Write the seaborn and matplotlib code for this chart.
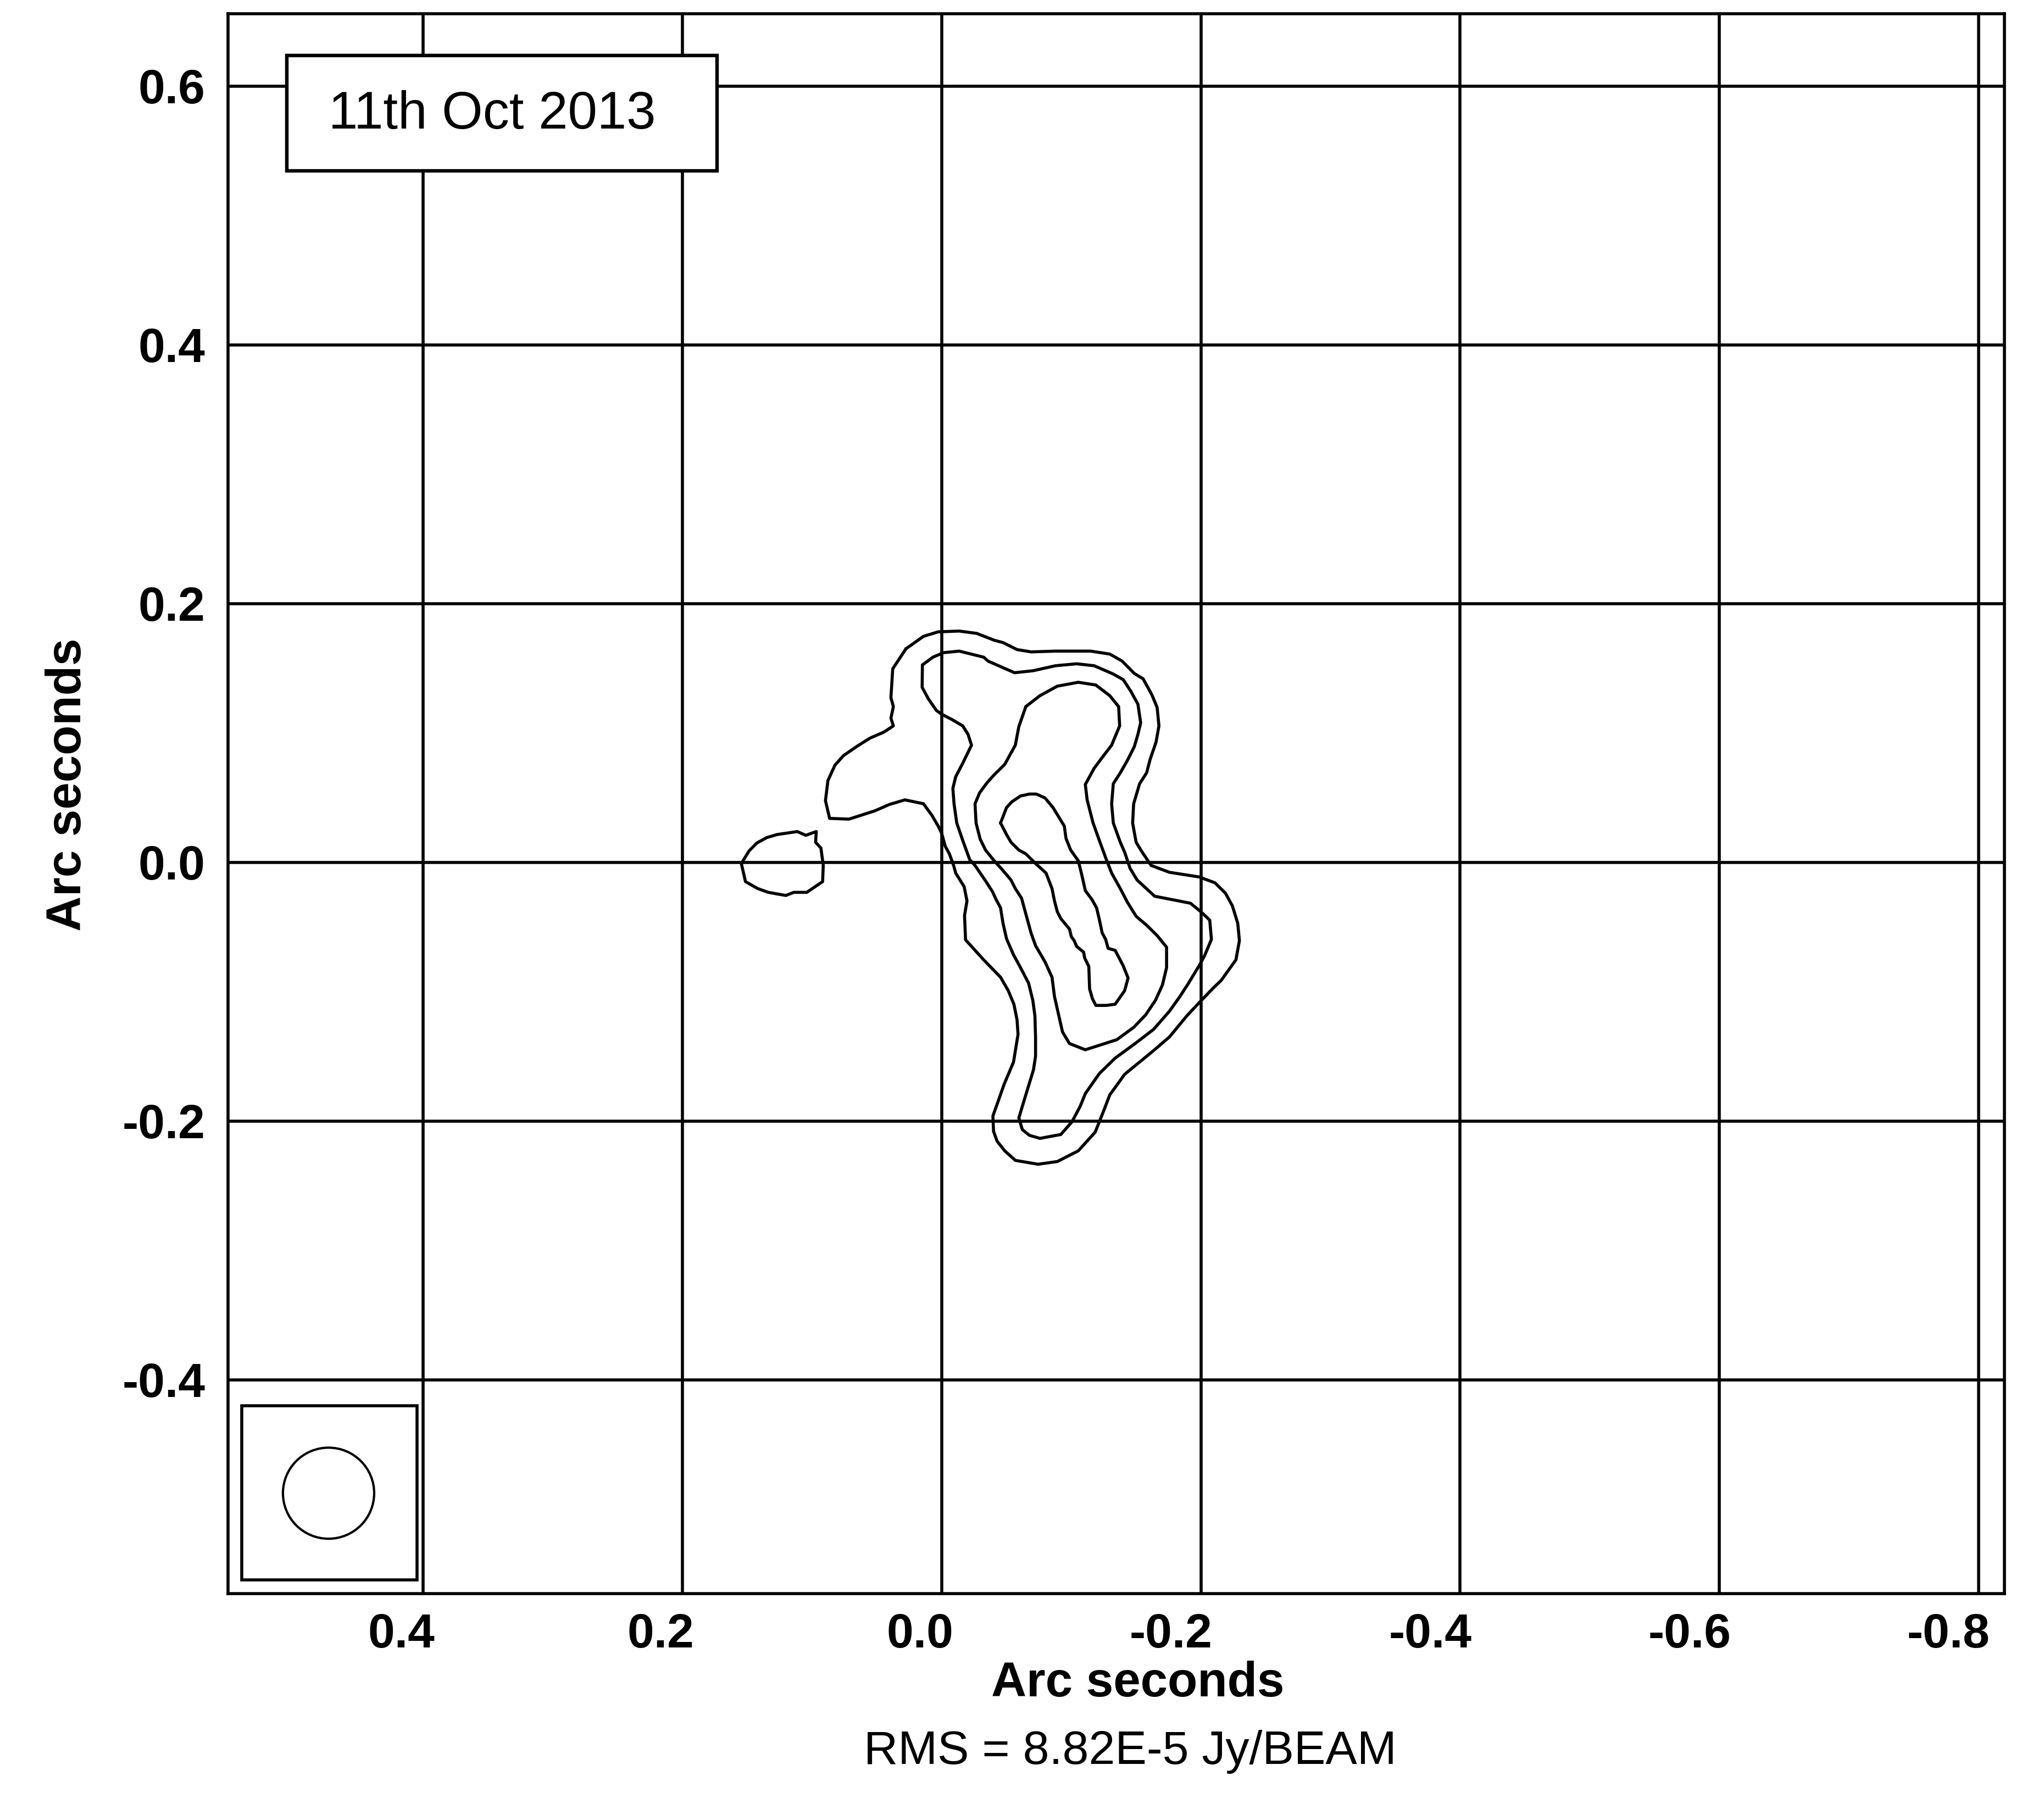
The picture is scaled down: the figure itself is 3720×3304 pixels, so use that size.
import pandas as pd
import matplotlib.pyplot as plt
import seaborn as sns
from matplotlib.patches import Rectangle, Ellipse
from matplotlib.transforms import ScaledTranslation


# contour outlines, arc seconds (RA offset, Dec offset)
island_x = [0.1546, 0.1514, 0.1419, 0.1338, 0.1203, 0.1141, 0.1041, 0.0919, 0.0914,
            0.0932, 0.0973, 0.0968, 0.1049, 0.1114, 0.1270, 0.1351, 0.1427, 0.1486]
island_y = [-0.0009, -0.0149, -0.0203, -0.0232, -0.0256, -0.0232, -0.0232, -0.0149, -0.0024,
            0.0110, 0.0155, 0.0238, 0.0209, 0.0238, 0.0215, 0.0191, 0.0149, 0.0089]

c1_x = [0.0276, 0.0141, 0.0027, -0.0135, -0.0270, -0.0405, -0.0473, -0.0581, -0.0689, -0.0878,
        -0.1149, -0.1297, -0.1392, -0.1486, -0.1554, -0.1622, -0.1662, -0.1676, -0.1654, -0.1608,
        -0.1581, -0.1527, -0.1481, -0.1473, -0.1500, -0.1546, -0.1616, -0.1757, -0.1986, -0.2108,
        -0.2189, -0.2243, -0.2284, -0.2297, -0.2270, -0.2216, -0.2157, -0.2095, -0.1986, -0.1892,
        -0.1757, -0.1635, -0.1411, -0.1351, -0.1297, -0.1257, -0.1216, -0.1184, -0.1054, -0.0892,
        -0.0743, -0.0568, -0.0486, -0.0427, -0.0400, -0.0395, -0.0432, -0.0481, -0.0554, -0.0589,
        -0.0581, -0.0557, -0.0514, -0.0454, -0.0324, -0.0184, -0.0176, -0.0195, -0.0173, -0.0108,
        -0.0092, -0.0059, -0.0027, 0.0000, 0.0027, 0.0076, 0.0141, 0.0284, 0.0405, 0.0514,
        0.0622, 0.0716, 0.0865, 0.0897, 0.0878, 0.0824, 0.0757, 0.0649, 0.0554, 0.0446,
        0.0373, 0.0392, 0.0373, 0.0392, 0.0378]
c1_y = [0.1651, 0.1747, 0.1782, 0.1788, 0.1770, 0.1717, 0.1699, 0.1645, 0.1627, 0.1633,
        0.1633, 0.1610, 0.1556, 0.1460, 0.1419, 0.1294, 0.1198, 0.1055, 0.0930, 0.0796,
        0.0692, 0.0608, 0.0453, 0.0304, 0.0155, 0.0080, -0.0024, -0.0077, -0.0113, -0.0158,
        -0.0238, -0.0337, -0.0471, -0.0605, -0.0754, -0.0829, -0.0912, -0.0972, -0.1085, -0.1186,
        -0.1350, -0.1455, -0.1639, -0.1723, -0.1797, -0.1902, -0.2006, -0.2086, -0.2230, -0.2313,
        -0.2334, -0.2304, -0.2230, -0.2155, -0.2080, -0.1961, -0.1857, -0.1717, -0.1544, -0.1329,
        -0.1216, -0.1097, -0.0993, -0.0888, -0.0754, -0.0599, -0.0411, -0.0298, -0.0188, -0.0083,
        -0.0024, 0.0066, 0.0125, 0.0224, 0.0280, 0.0364, 0.0453, 0.0483, 0.0447, 0.0399,
        0.0364, 0.0334, 0.0340, 0.0477, 0.0632, 0.0751, 0.0826, 0.0900, 0.0960, 0.1007,
        0.1055, 0.1115, 0.1204, 0.1273, 0.1496]

c2_x = [0.0149, 0.0068, -0.0014, -0.0135, -0.0324, -0.0357, -0.0459, -0.0562, -0.0703, -0.0878,
        -0.1041, -0.1176, -0.1319, -0.1400, -0.1459, -0.1514, -0.1535, -0.1514, -0.1486, -0.1432,
        -0.1378, -0.1324, -0.1311, -0.1324, -0.1378, -0.1411, -0.1454, -0.1508, -0.1643, -0.1797,
        -0.1919, -0.2000, -0.2068, -0.2081, -0.2027, -0.1986, -0.1905, -0.1838, -0.1757, -0.1635,
        -0.1500, -0.1338, -0.1216, -0.1108, -0.1068, -0.1005, -0.0919, -0.0757, -0.0676, -0.0622,
        -0.0595, -0.0649, -0.0708, -0.0724, -0.0724, -0.0719, -0.0703, -0.0670, -0.0600, -0.0554,
        -0.0500, -0.0473, -0.0454, -0.0419, -0.0392, -0.0338, -0.0257, -0.0216, -0.0162, -0.0116,
        -0.0095, -0.0086, -0.0108, -0.0162, -0.0230, -0.0203, -0.0162, -0.0081, 0.0000, 0.0041,
        0.0103, 0.0151]
c2_y = [0.1526, 0.1586, 0.1621, 0.1633, 0.1586, 0.1556, 0.1511, 0.1466, 0.1481, 0.1520,
        0.1535, 0.1520, 0.1458, 0.1413, 0.1323, 0.1222, 0.1079, 0.0990, 0.0894, 0.0787,
        0.0692, 0.0608, 0.0453, 0.0304, 0.0155, 0.0080, -0.0048, -0.0137, -0.0262, -0.0292,
        -0.0316, -0.0382, -0.0447, -0.0596, -0.0724, -0.0799, -0.0933, -0.1037, -0.1151, -0.1291,
        -0.1395, -0.1514, -0.1633, -0.1788, -0.1887, -0.2006, -0.2104, -0.2134, -0.2110, -0.2066,
        -0.1976, -0.1797, -0.1604, -0.1499, -0.1350, -0.1186, -0.1067, -0.0933, -0.0799, -0.0715,
        -0.0590, -0.0471, -0.0352, -0.0286, -0.0227, -0.0143, -0.0024, 0.0021, 0.0170, 0.0304,
        0.0453, 0.0572, 0.0662, 0.0766, 0.0906, 0.0990, 0.1055, 0.1103, 0.1145, 0.1174,
        0.1264, 0.1353]

c3_x = [-0.0649, -0.0757, -0.0892, -0.1054, -0.1189, -0.1297, -0.1365, -0.1373, -0.1311, -0.1243,
        -0.1176, -0.1108, -0.1122, -0.1168, -0.1216, -0.1265, -0.1311, -0.1378, -0.1432, -0.1500,
        -0.1581, -0.1662, -0.1735, -0.1735, -0.1703, -0.1649, -0.1573, -0.1481, -0.1351, -0.1230,
        -0.1108, -0.0986, -0.0932, -0.0905, -0.0870, -0.0851, -0.0797, -0.0724, -0.0689, -0.0654,
        -0.0616, -0.0568, -0.0535, -0.0465, -0.0405, -0.0338, -0.0297, -0.0265, -0.0257, -0.0292,
        -0.0351, -0.0405, -0.0486, -0.0568, -0.0595]
c3_y = [0.1204, 0.1288, 0.1362, 0.1392, 0.1371, 0.1288, 0.1204, 0.1055, 0.0906, 0.0817,
        0.0727, 0.0602, 0.0483, 0.0304, 0.0170, 0.0036, -0.0083, -0.0203, -0.0307, -0.0417,
        -0.0486, -0.0566, -0.0656, -0.0814, -0.0948, -0.1067, -0.1180, -0.1276, -0.1371, -0.1410,
        -0.1449, -0.1401, -0.1311, -0.1192, -0.1037, -0.0888, -0.0769, -0.0644, -0.0545, -0.0417,
        -0.0277, -0.0203, -0.0137, -0.0054, 0.0012, 0.0095, 0.0179, 0.0304, 0.0453, 0.0537,
        0.0617, 0.0677, 0.0757, 0.0906, 0.1049]

c4_x = [-0.0454, -0.0500, -0.0541, -0.0608, -0.0676, -0.0730, -0.0797, -0.0859, -0.0946, -0.0959,
        -0.0995, -0.1054, -0.1081, -0.1108, -0.1162, -0.1195, -0.1216, -0.1238, -0.1265, -0.1284,
        -0.1338, -0.1400, -0.1438, -0.1411, -0.1338, -0.1270, -0.1189, -0.1162, -0.1141, -0.1135,
        -0.1103, -0.1095, -0.1041, -0.1022, -0.1000, -0.0986, -0.0919, -0.0892, -0.0870, -0.0851,
        -0.0805, -0.0724, -0.0649, -0.0595, -0.0535, -0.0500]
c4_y = [0.0304, 0.0423, 0.0468, 0.0513, 0.0528, 0.0528, 0.0498, 0.0423, 0.0280, 0.0185,
        0.0095, 0.0012, -0.0098, -0.0218, -0.0292, -0.0352, -0.0441, -0.0545, -0.0596, -0.0665,
        -0.0680, -0.0799, -0.0894, -0.0993, -0.1097, -0.1106, -0.1106, -0.1052, -0.0978, -0.0805,
        -0.0739, -0.0694, -0.0650, -0.0605, -0.0575, -0.0516, -0.0435, -0.0382, -0.0298, -0.0203,
        -0.0083, -0.0009, 0.0066, 0.0095, 0.0155, 0.0215]

x_ticks = [0.4, 0.2, 0.0, -0.2, -0.4, -0.6, -0.8]
y_ticks = [-0.4, -0.2, 0.0, 0.2, 0.4, 0.6]
x_tick_labels = ["0.4", "0.2", "0.0", "-0.2", "-0.4", "-0.6", "-0.8"]
y_tick_labels = ["-0.4", "-0.2", "0.0", "0.2", "0.4", "0.6"]

date_label = "11th Oct 2013"
rms_label = "RMS = 8.82E-5 Jy/BEAM"
beam_radius = 0.0352   # arcsec
beam_centre = (0.4731, -0.4877)


def closed(xs, ys):
    return pd.DataFrame({"x": list(xs) + [xs[0]], "y": list(ys) + [ys[0]]})


sns.set_style("white")
plt.rcParams["font.family"] = ["Liberation Sans", "DejaVu Sans"]
plt.rcParams["text.color"] = "black"
plt.rcParams["axes.labelcolor"] = "black"
plt.rcParams["xtick.color"] = "black"
plt.rcParams["ytick.color"] = "black"

fig = plt.figure(figsize=(37.2, 33.04), dpi=100)
ax = fig.add_axes([0.1116, 0.1220, 0.8690, 0.8704])

LW = 4.0
for xs, ys in [(island_x, island_y), (c1_x, c1_y), (c2_x, c2_y), (c3_x, c3_y), (c4_x, c4_y)]:
    df = closed(xs, ys)
    sns.lineplot(data=df, x="x", y="y", sort=False, estimator=None,
                 color="black", linewidth=LW, ax=ax, zorder=3)

ax.set_xlim(0.5506, -0.8199)
ax.set_ylim(-0.5653, 0.6560)
ax.set_xticks(x_ticks)
ax.set_xticklabels(x_tick_labels)
ax.set_yticks(y_ticks)
ax.set_yticklabels(y_tick_labels)
ax.grid(True, color="black", linewidth=LW)
ax.set_axisbelow(True)
ax.tick_params(axis="both", length=0, labelsize=63, colors="black")
ax.tick_params(axis="x", pad=25)
ax.tick_params(axis="y", pad=30)
shift = ScaledTranslation(0.21, 0, fig.dpi_scale_trans)
for lab in ax.get_xticklabels():
    lab.set_fontweight("bold")
    lab.set_ha("right")
    lab.set_transform(lab.get_transform() + shift)
for lab in ax.get_yticklabels():
    lab.set_fontweight("bold")
for s in ax.spines.values():
    s.set_visible(True)
    s.set_color("black")
    s.set_linewidth(LW)

ax.set_xlabel("Arc seconds", fontsize=64, fontweight="bold")
ax.set_ylabel("Arc seconds", fontsize=64, fontweight="bold")
ax.xaxis.label.set_va("baseline")
ax.xaxis.set_label_coords(0.512, -0.065)
ax.yaxis.label.set_va("baseline")
ax.yaxis.set_label_coords(-0.0829, 0.5122)

# date label box
ax.add_patch(Rectangle((0.1735, 0.5347), 0.3318, 0.0890, facecolor="white",
                       edgecolor="black", linewidth=4.6, zorder=4))
ax.text(0.347, 0.5672, date_label, fontsize=69, ha="center", va="baseline", zorder=5)

# beam
ax.add_patch(Rectangle((0.405, -0.5547), 0.135, 0.1347, facecolor="white",
                       edgecolor="black", linewidth=LW, zorder=4))
ax.add_patch(Ellipse(beam_centre, 2 * beam_radius, 2 * beam_radius, facecolor="none",
                     edgecolor="black", linewidth=3.0, zorder=5))

fig.text(0.553, 0.0281, rms_label, fontsize=62, ha="center", va="baseline")

fig.savefig("out.png", dpi=100, facecolor="white")
